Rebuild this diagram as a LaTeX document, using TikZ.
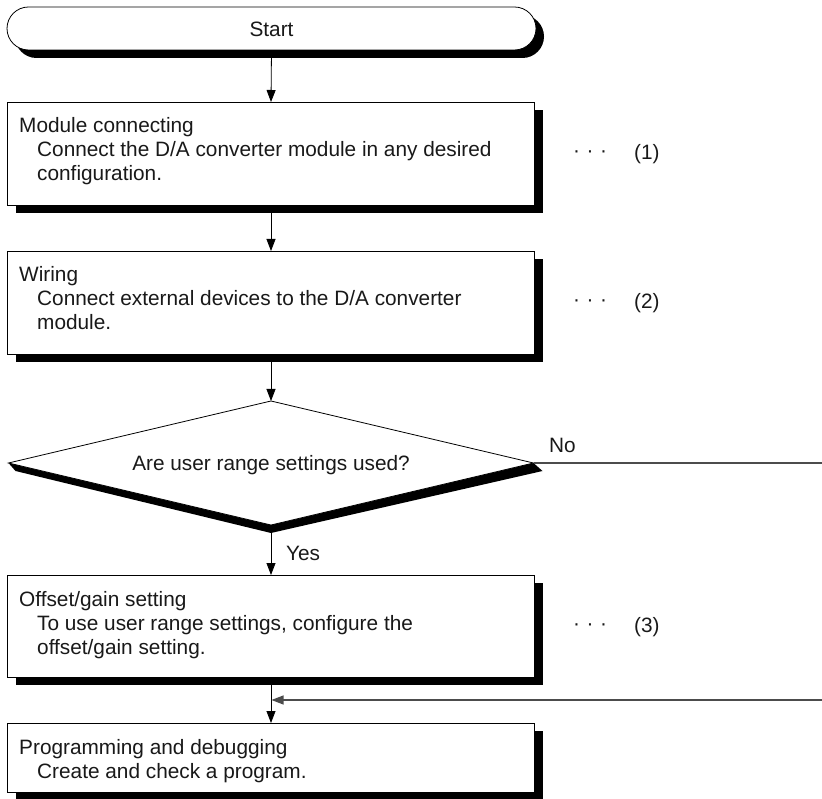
\documentclass[tikz,border=0pt]{standalone}
\usepackage{fontspec}
\setmainfont{Liberation Sans}
\usetikzlibrary{arrows.meta,shadows,calc}
\begin{document}
\begin{tikzpicture}[x=1pt,y=-1pt,
  every node/.style={font=\fontsize{20.8}{24}\selectfont, text=black!90, inner sep=0pt},
  shad/.style={drop shadow={shadow xshift=8pt,shadow yshift=-8pt,fill=black,opacity=1}},
  procbox/.style={draw=black, line width=0.8pt, fill=white, minimum width=527pt, minimum height=#1, anchor=north, shad},
  termbox/.style={draw=black, line width=0.8pt, fill=white, minimum width=529pt, minimum height=43pt, rounded corners=21.5pt, shad},
  ttl/.style={anchor=base west},
  body/.style={anchor=base west},
  flow/.style={draw=black, line width=0.8pt, -{Triangle[width=9pt,length=12pt]}},
  side/.style={draw=black!70, line width=1.1pt},
  sidearrow/.style={draw=black!70, line width=1.1pt, -{Triangle[width=9pt,length=12pt]}},
  dotsl/.style={anchor=west},
]
\useasboundingbox (0,0) rectangle (822,799);

% Start terminal
\node[termbox] (start) at (271.5,28.5) {};
\node (starttxt) at (271.5,29) {Start};

% Box 1
\node[procbox=103pt] (b1) at (271,102) {};
\node[ttl]  (b1t) at (19,133) {Module connecting};
\node[body] (b1a) at (37,157) {Connect the D/A converter module in any desired};
\node[body] (b1b) at (37,181) {configuration.};
\node[dotsl] (d1) at (573,154) {·\hspace{6.5pt}·\hspace{6.5pt}·};
\node[dotsl] (n1) at (634,154) {(1)};

% Box 2
\node[procbox=103pt] (b2) at (271,251) {};
\node[ttl]  (b2t) at (19,282) {Wiring};
\node[body] (b2a) at (37,306) {Connect external devices to the D/A converter};
\node[body] (b2b) at (37,330) {module.};
\node[dotsl] (d2) at (573,303) {·\hspace{6.5pt}·\hspace{6.5pt}·};
\node[dotsl] (n2) at (634,303) {(2)};

% Decision
\coordinate (dT) at (271,401);
\coordinate (dL) at (8.5,463);
\coordinate (dR) at (533.5,463);
\coordinate (dB) at (271,525);
\fill[black] ($(dL)+(7,8)$) -- ($(dB)+(0,8)$) -- ($(dR)+(9,8)$) -- (dR) -- (dB) -- (dL) -- cycle;
\draw[fill=white, line width=0.8pt] (dT) -- (dR) -- (dB) -- (dL) -- cycle;
\node[anchor=base] (q) at (271,470) {Are user range settings used?};
\node[anchor=base west] (no) at (549,453) {No};
\node[anchor=base west] (yes) at (286,560) {Yes};
\coordinate (noR) at (822,463);

% Box 3
\node[procbox=102pt] (b3) at (271,575) {};
\node[ttl]  (b3t) at (19,606) {Offset/gain setting};
\node[body] (b3a) at (37,630) {To use user range settings, configure the};
\node[body] (b3b) at (37,654) {offset/gain setting.};
\node[dotsl] (d3) at (573,627) {·\hspace{6.5pt}·\hspace{6.5pt}·};
\node[dotsl] (n3) at (634,627) {(3)};

% Box 4
\node[procbox=69pt] (b4) at (271,723) {};
\node[ttl]  (b4t) at (19,754) {Programming and debugging};
\node[body] (b4a) at (37,778) {Create and check a program.};

% connectors
\draw[flow] (start.south) -- (b1.north);
\draw[flow] (b1.south) -- (b2.north);
\draw[flow] (b2.south) -- (dT);
\draw[flow] (dB) -- (b3.north);
\draw[flow] (b3.south) -- (b4.north);
\draw[side] (dR) -- (noR);
\coordinate (mR) at (822,700);
\coordinate (mL) at (271.5,700);
\draw[sidearrow] (mR) -- (mL);
\end{tikzpicture}
\end{document}
